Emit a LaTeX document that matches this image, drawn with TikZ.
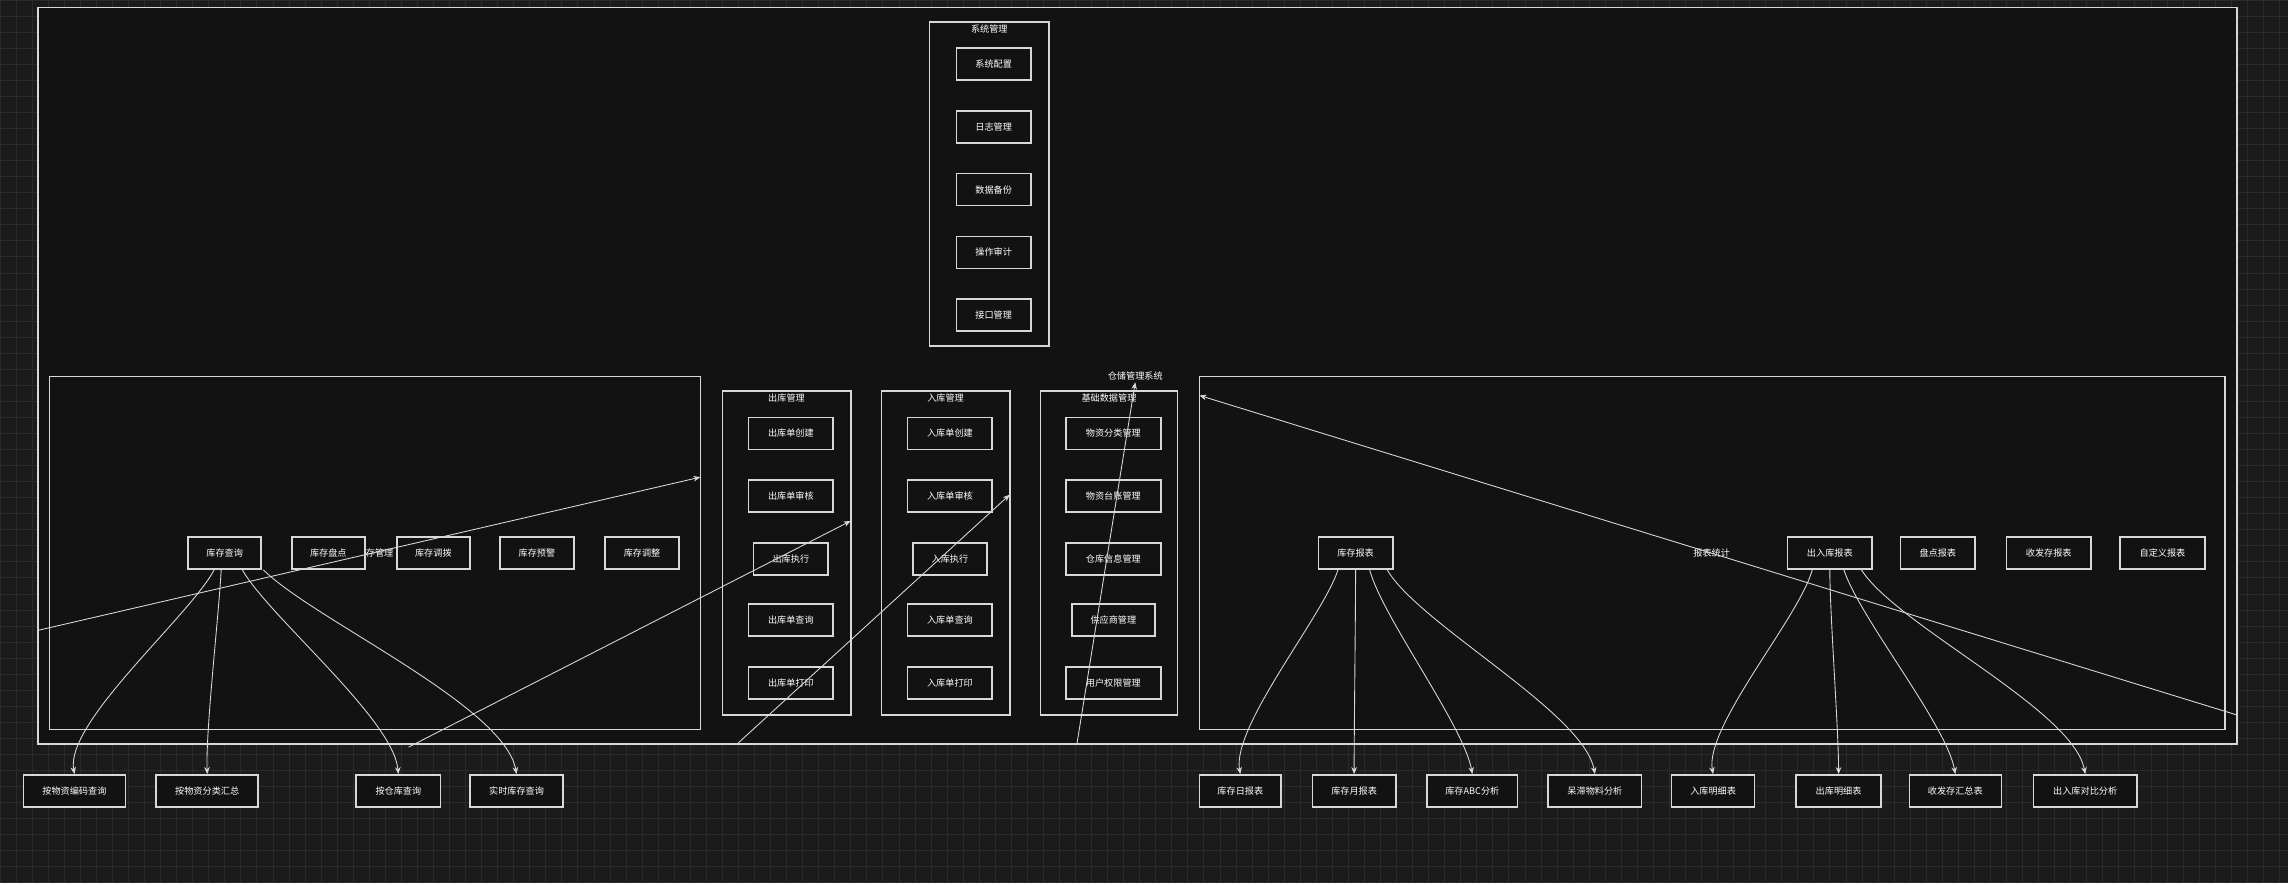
\documentclass[tikz,border=0pt]{standalone}
\usepackage{fontspec}
\setmainfont{Noto Sans CJK SC}
\usetikzlibrary{arrows.meta}
\definecolor{bgdark}{HTML}{1B1B1B}
\definecolor{gridline}{HTML}{2B2B2B}
\definecolor{canvas}{HTML}{121212}
\definecolor{stroke}{HTML}{D8D8D8}

\tikzset{
  box/.style={draw=stroke, fill=canvas, line width=0.45pt, text=white,
    minimum height=0.32cm, inner sep=0pt,
    font=\fontsize{2.6pt}{3pt}\selectfont},
  w/.style={minimum width=#1*0.01459cm},
  cluster/.style={draw=stroke, line width=0.45pt},
  title/.style={text=white, inner sep=0pt, font=\fontsize{2.6pt}{3pt}\selectfont},
  edge/.style={draw=stroke, line width=0.25pt, -{Stealth[length=2pt,width=1.6pt]}},
  fan/.style={edge, looseness=0.55}
}

\begin{document}
\begin{tikzpicture}[x=0.01459cm, y=0.01459cm]
        \useasboundingbox (0,0) rectangle (1568,-605);
        \fill[bgdark] (0,0) rectangle (1568,-605);
        \draw[gridline, line width=0.2pt, step=11*0.01459cm] (0,0) grid (1568,-605);

        % outer frame
        \draw[cluster, fill=canvas] (26,-5) rectangle (1533,-510);
        \node[title] (sys) at (778,-258) {仓储管理系统};

        % system management
        \draw[cluster] (637,-15) rectangle (719,-237);
        \node[title] (sysm) at (678,-20) {系统管理};
        \node[box, w=51] (s1) at (681,-44) {系统配置};
        \node[box, w=51] (s2) at (681,-87) {日志管理};
        \node[box, w=51] (s3) at (681,-130) {数据备份};
        \node[box, w=51] (s4) at (681,-173) {操作审计};
        \node[box, w=51] (s5) at (681,-216) {接口管理};

        % inventory management
        \draw[cluster] (34,-258) rectangle (480,-500);
        \node[title] (inv) at (257,-379) {库存管理};
        \node[box, w=50] (kq) at (154,-379) {库存查询};
        \node[box, w=50] (kp) at (225,-379) {库存盘点};
        \node[box, w=50] (kd) at (297,-379) {库存调拨};
        \node[box, w=51] (ky) at (368,-379) {库存预警};
        \node[box, w=51] (kt) at (440,-379) {库存调整};

        % outbound
        \draw[cluster] (495,-268) rectangle (583,-490);
        \node[title] (outm) at (539,-273) {出库管理};
        \node[box, w=58] (o1) at (542,-297) {出库单创建};
        \node[box, w=58] (o2) at (542,-340) {出库单审核};
        \node[box, w=51] (o3) at (542,-383) {出库执行};
        \node[box, w=58] (o4) at (542,-425) {出库单查询};
        \node[box, w=58] (o5) at (542,-468) {出库单打印};

        % inbound
        \draw[cluster] (604,-268) rectangle (692,-490);
        \node[title] (inm) at (648,-273) {入库管理};
        \node[box, w=58] (i1) at (651,-297) {入库单创建};
        \node[box, w=58] (i2) at (651,-340) {入库单审核};
        \node[box, w=51] (i3) at (651,-383) {入库执行};
        \node[box, w=58] (i4) at (651,-425) {入库单查询};
        \node[box, w=58] (i5) at (651,-468) {入库单打印};

        % base data
        \draw[cluster] (713,-268) rectangle (807,-490);
        \node[title] (basem) at (760,-273) {基础数据管理};
        \node[box, w=65] (d1) at (763,-297) {物资分类管理};
        \node[box, w=65] (d2) at (763,-340) {物资台账管理};
        \node[box, w=65] (d3) at (763,-383) {仓库信息管理};
        \node[box, w=57] (d4) at (763,-425) {供应商管理};
        \node[box, w=65] (d5) at (763,-468) {用户权限管理};

        % reports
        \draw[cluster] (822,-258) rectangle (1525,-500);
        \node[title] (rep) at (1173,-379) {报表统计};
        \node[box, w=51] (r1) at (929,-379) {库存报表};
        \node[box, w=58] (r2) at (1254,-379) {出入库报表};
        \node[box, w=51] (r3) at (1328,-379) {盘点报表};
        \node[box, w=58] (r4) at (1404,-379) {收发存报表};
        \node[box, w=58] (r5) at (1482,-379) {自定义报表};

        % bottom row
        \node[box, w=70] (b1) at (51,-542) {按物资编码查询};
        \node[box, w=70] (b2) at (142,-542) {按物资分类汇总};
        \node[box, w=58] (b3) at (273,-542) {按仓库查询};
        \node[box, w=64] (b4) at (354,-542) {实时库存查询};
        \node[box, w=56] (c1) at (850,-542) {库存日报表};
        \node[box, w=57] (c2) at (928,-542) {库存月报表};
        \node[box, w=62] (c3) at (1009,-542) {库存ABC分析};
        \node[box, w=64] (c4) at (1093,-542) {呆滞物料分析};
        \node[box, w=57] (c5) at (1174,-542) {入库明细表};
        \node[box, w=58] (c6) at (1260,-542) {出库明细表};
        \node[box, w=63] (c7) at (1340,-542) {收发存汇总表};
        \node[box, w=71] (c8) at (1429,-542) {出入库对比分析};

        % free ends of the long connectors
        \coordinate (e1s) at (26,-432);   \coordinate (e1t) at (480,-327);
        \coordinate (e2s) at (280,-512);  \coordinate (e2t) at (583,-357);
        \coordinate (e3s) at (505,-510);  \coordinate (e3t) at (692,-339);
        \coordinate (e4s) at (738,-510);  \coordinate (e4t) at (778,-262);
        \coordinate (e5s) at (1533,-490); \coordinate (e5t) at (822,-271);
        \draw[edge] (e1s) -- (e1t);
        \draw[edge] (e2s) -- (e2t);
        \draw[edge] (e3s) -- (e3t);
        \draw[edge] (e4s) -- (e4t);
        \draw[edge] (e5s) -- (e5t);

        \draw[fan] ([xshift=-3]kq.south) to[out=-118,in=100] (b1.north);
        \draw[fan] ([xshift=-1]kq.south) to[out=-93,in=92] (b2.north);
        \draw[fan] ([xshift=5]kq.south) to[out=-60,in=95] (b3.north);
        \draw[fan] ([xshift=11]kq.south) to[out=-45,in=100] (b4.north);

        \draw[fan] ([xshift=-5]r1.south) to[out=-108,in=100] (c1.north);
        \draw[fan] (r1.south) to[out=-90,in=90] (c2.north);
        \draw[fan] ([xshift=4]r1.south) to[out=-75,in=100] (c3.north);
        \draw[fan] ([xshift=9]r1.south) to[out=-60,in=100] (c4.north);

        \draw[fan] ([xshift=-5]r2.south) to[out=-105,in=100] (c5.north);
        \draw[fan] (r2.south) to[out=-90,in=90] (c6.north);
        \draw[fan] ([xshift=4]r2.south) to[out=-72,in=100] (c7.north);
        \draw[fan] ([xshift=9]r2.south) to[out=-58,in=100] (c8.north);
\end{tikzpicture}
\end{document}
